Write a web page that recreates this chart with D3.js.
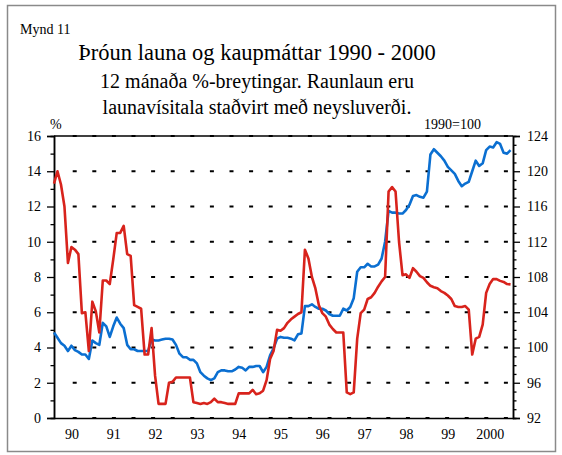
<!DOCTYPE html>
<html lang="is">
<head>
<meta charset="UTF-8">
<title>Mynd 11</title>
<script src="https://d3js.org/d3.v7.min.js"></script>
<style>
  body { margin: 0; background: #fff; }
  svg { display: block; font-family: "Liberation Serif", "Times New Roman", serif; }
</style>
</head>
<body>
<svg id="chart"></svg>
<script>
  // ár á x-ás (merki sett í júní hvers árs)
  const yearLabels = ['90', '91', '92', '93', '94', '95', '96', '97', '98', '99', '2000']
  const leftTicks = [0, 2, 4, 6, 8, 10, 12, 14, 16]
  const rightTicks = [92, 96, 100, 104, 108, 112, 116, 120, 124]

  // launavísitala, 12 mánaða %-breyting, jan 1990 - des 2000
  const wageChange = [
    13.3, 14.0, 13.25, 12.0, 8.8, 9.7, 9.55, 9.3, 5.95, 6.0, 3.8, 6.6,
    6.05, 4.85, 7.8, 7.8, 7.6, 9.0, 10.5, 10.5, 10.9, 9.3, 9.2, 6.4,
    6.3, 6.2, 3.6, 3.6, 5.1, 2.4, 0.8, 0.8, 0.8, 2.0, 2.05, 2.3,
    2.3, 2.3, 2.3, 2.3, 0.9, 0.85, 0.8, 0.85, 0.8, 0.9, 1.1, 0.9,
    0.9, 0.85, 0.8, 0.8, 0.8, 1.4, 1.4, 1.4, 1.4, 1.6, 1.35, 1.4,
    1.55, 2.15, 3.35, 3.8, 5.0, 4.95, 5.1, 5.4, 5.6, 5.75, 5.9, 6.0,
    9.55, 9.05, 8.0, 7.35, 6.4, 5.95, 5.75, 5.3, 5.05, 4.85, 4.85, 4.85,
    1.45, 1.35, 1.45, 4.5, 5.95, 6.15, 6.75, 6.85, 7.1, 7.45, 7.75, 8.0,
    12.85, 13.1, 12.85, 10.0, 8.1, 8.15, 7.95, 8.5, 8.3, 8.05, 7.95, 7.7,
    7.5, 7.42, 7.36, 7.2, 7.1, 6.95, 6.75, 6.35, 6.3, 6.3, 6.35, 6.15,
    3.6, 4.5, 4.6, 5.3, 7.1, 7.6, 7.88, 7.88, 7.78, 7.72, 7.6, 7.58
  ]

  // raunlaun, vísitala 1990=100 (hægri ás)
  const realWages = [
    101.7, 101.1, 100.5, 100.2, 99.6, 100.2, 99.7, 99.5, 99.2, 99.2, 98.7, 100.8,
    100.5, 100.3, 102.8, 102.4, 101.2, 102.4, 103.4, 102.7, 102.2, 100.3, 99.8, 99.8,
    99.6, 99.6, 99.6, 99.6, 100.9, 100.8, 100.8, 100.9, 101.0, 101.0, 100.9, 100.3,
    99.3, 98.9, 98.9, 98.6, 98.6, 98.2, 97.2, 96.8, 96.5, 96.3, 96.5, 97.2,
    97.4, 97.4, 97.3, 97.3, 97.5, 97.8, 97.7, 97.4, 97.8, 97.8, 97.9, 97.9,
    97.2, 97.8, 99.1, 99.9, 101.0, 101.2, 101.1, 101.1, 101.0, 100.8, 101.5, 101.6,
    104.7, 104.7, 104.9, 104.6, 104.4, 104.4, 104.2, 103.8, 103.6, 103.6, 103.6, 104.4,
    104.2, 104.6, 105.6, 108.6, 109.1, 109.1, 109.5, 109.2, 109.2, 109.4, 110.1, 112.0,
    115.5, 115.3, 115.3, 115.2, 115.2, 115.6, 116.2, 117.2, 117.3, 117.1, 117.0, 117.7,
    121.9, 122.5, 122.1, 121.7, 121.2, 120.5, 120.1, 119.7, 118.9, 118.3, 118.6, 118.8,
    120.0, 121.2, 120.6, 120.9, 122.4, 122.8, 122.7, 123.3, 123.1, 122.1, 122.0, 122.4
  ]

  const width = 562
  const height = 455
  const plot = { left: 54, right: 513, top: 136, bottom: 418 }

  const svg = d3.select('#chart')
    .attr('width', width)
    .attr('height', height)

  // rammi utan um myndina
  svg.append('rect')
    .attr('x', 7.5).attr('y', 5.5)
    .attr('width', 548).attr('height', 446)
    .attr('fill', 'none')
    .attr('stroke', '#8a8a8a')
    .attr('stroke-width', 1.5)

  const x = d3.scaleLinear().domain([0, 131.7]).range([plot.left, plot.right])
  const yL = d3.scaleLinear().domain([0, 16]).range([plot.bottom, plot.top])
  const yR = d3.scaleLinear().domain([92, 124]).range([plot.bottom, plot.top])

  // texti efst
  svg.append('text').attr('x', 20).attr('y', 34)
    .attr('font-size', 14).text('Mynd 11')
  svg.append('text').attr('x', 257).attr('y', 60)
    .attr('font-size', 22.5).attr('text-anchor', 'middle')
    .text('Þróun launa og kaupmáttar 1990 - 2000')
  svg.append('text').attr('x', 257).attr('y', 88)
    .attr('font-size', 20).attr('text-anchor', 'middle')
    .text('12 mánaða %-breytingar. Raunlaun eru')
  svg.append('text').attr('x', 257).attr('y', 114)
    .attr('font-size', 20).attr('text-anchor', 'middle')
    .text('launavísitala staðvirt með neysluverði.')
  svg.append('text').attr('x', 50).attr('y', 129)
    .attr('font-size', 14).text('%')
  svg.append('text').attr('x', 481).attr('y', 129)
    .attr('font-size', 14).attr('text-anchor', 'end').text('1990=100')

  // strikaðar línur
  svg.append('g')
    .selectAll('line')
    .data(leftTicks)
    .join('line')
    .attr('x1', plot.left + 18.7)
    .attr('x2', plot.right)
    .attr('y1', d => yL(d))
    .attr('y2', d => yL(d))
    .attr('stroke', '#000')
    .attr('stroke-width', 1.8)
    .attr('stroke-dasharray', '4,15.6')

  // efri og neðri lína
  svg.append('line')
    .attr('x1', plot.left).attr('x2', plot.right)
    .attr('y1', plot.top).attr('y2', plot.top)
    .attr('stroke', '#000').attr('stroke-width', 1.5)

  // vinstri ás
  const minorL = d3.range(1, 16, 2)
  svg.append('g')
    .attr('transform', `translate(${plot.left},0)`)
    .call(d3.axisLeft(yL).tickValues(minorL).tickSize(3.5).tickFormat(''))
  svg.append('g')
    .attr('class', 'left-axis')
    .attr('transform', `translate(${plot.left},0)`)
    .call(d3.axisLeft(yL).tickValues(leftTicks).tickSize(7).tickPadding(6))

  // hægri ás
  const minorR = d3.range(93, 124, 1).filter(d => (d - 92) % 4 !== 0)
  svg.append('g')
    .attr('transform', `translate(${plot.right},0)`)
    .call(d3.axisRight(yR).tickValues(minorR).tickSize(3.5).tickFormat(''))
  svg.append('g')
    .attr('class', 'right-axis')
    .attr('transform', `translate(${plot.right},0)`)
    .call(d3.axisRight(yR).tickValues(rightTicks).tickSize(7).tickPadding(7))

  // neðri ás, ártöl
  svg.append('g')
    .attr('class', 'bottom-axis')
    .attr('transform', `translate(0,${plot.bottom})`)
    .call(d3.axisBottom(x)
      .tickValues(yearLabels.map((d, i) => i * 12 + 5))
      .tickFormat((d, i) => yearLabels[i])
      .tickSize(0)
      .tickPadding(11))

  svg.selectAll('.domain')
    .attr('stroke', '#000')
    .attr('stroke-width', 1.5)
  svg.selectAll('.tick line')
    .attr('stroke', '#000')
    .attr('stroke-width', 1.3)
  svg.selectAll('.tick text')
    .attr('font-size', 14)
    .attr('font-family', '"Liberation Serif", "Times New Roman", serif')
    .attr('fill', '#000')

  // línurnar
  const wageLine = d3.line()
    .x((d, i) => x(i))
    .y(d => yL(d))
  const realLine = d3.line()
    .x((d, i) => x(i))
    .y(d => yR(d))

  svg.append('path')
    .datum(realWages)
    .attr('d', realLine)
    .attr('fill', 'none')
    .attr('stroke', '#0b6fd1')
    .attr('stroke-width', 2.6)
    .attr('stroke-linejoin', 'round')

  svg.append('path')
    .datum(wageChange)
    .attr('d', wageLine)
    .attr('fill', 'none')
    .attr('stroke', '#d8231c')
    .attr('stroke-width', 2.6)
    .attr('stroke-linejoin', 'round')
</script>
</body>
</html>
